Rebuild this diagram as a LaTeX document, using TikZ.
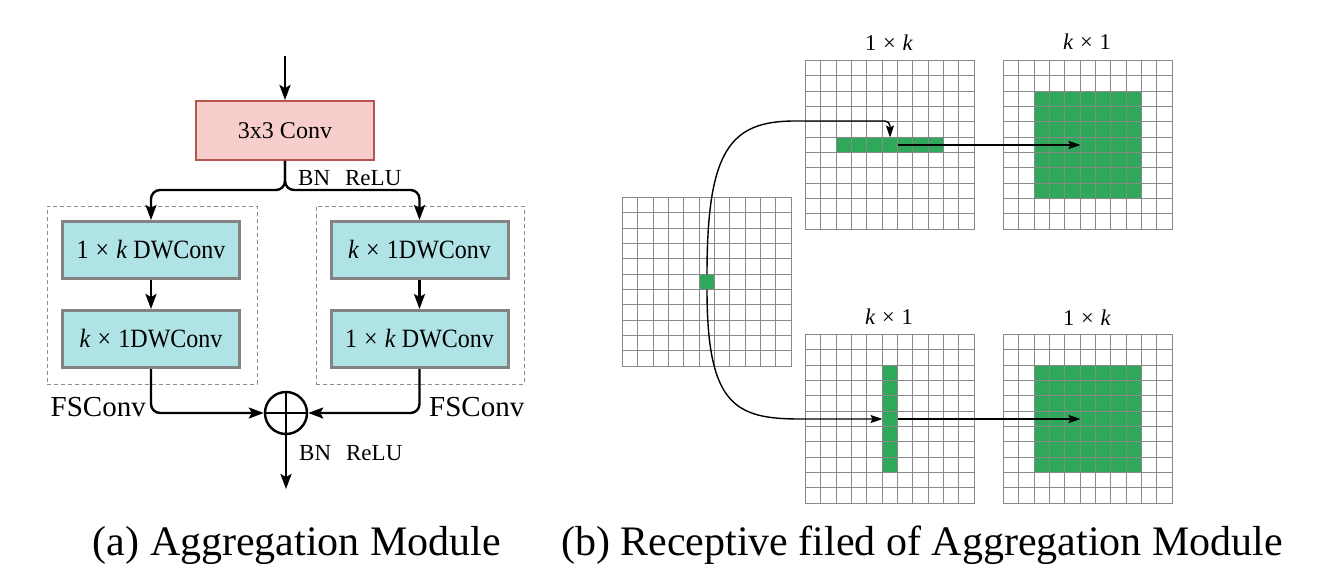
\documentclass[tikz,border=0pt]{standalone}
\usepackage{graphicx}
\usepackage{fontspec}
\setmainfont{Liberation Serif}
\usetikzlibrary{arrows.meta}
\definecolor{convfill}{HTML}{F8CECC}
\definecolor{convline}{HTML}{B85450}
\definecolor{dwfill}{HTML}{B0E3E6}
\definecolor{dwline}{HTML}{838383}
\definecolor{fsline}{HTML}{8C8C8C}
\definecolor{gridgray}{HTML}{888888}
\definecolor{cellgreen}{HTML}{2FA85C}
\newcommand\fmgrid[2]{%
  \foreach \i in {0,...,11} {
    \pgfmathsetmacro\pp{round(\i*15.33)+0.5}
    \draw[gridline] ({#1+\pp},{#2+0.5}) -- ({#1+\pp},{#2+169.5});
    \draw[gridline] ({#1+0.5},{#2+\pp}) -- ({#1+169.5},{#2+\pp});
  }}
\newcommand\fmcells[6]{% x0 y0 col row ncols nrows
  \fill[cellgreen] ({#1+round(#3*15.33)+0.5},{#2+round(#4*15.33)+0.5}) rectangle ({#1+round((#3+#5)*15.33)+0.5},{#2+round((#4+#6)*15.33)+0.5});}
\newcommand\tx{\hspace{0.3em}×\hspace{0.3em}}
\newcommand\dwt[1]{\scalebox{1}[1.1]{#1}}
\begin{document}
\begin{tikzpicture}[x=1pt,y=-1pt,
  convbox/.style={draw=convline, fill=convfill, line width=2pt, minimum width=178pt, minimum height=59pt, inner sep=0pt, font=\fontsize{24}{28}\selectfont},
  dwbox/.style={draw=dwline, fill=dwfill, line width=3pt, minimum width=177pt, minimum height=57pt, inner sep=0pt, font=\fontsize{24}{28}\selectfont},
  fsbox/.style={draw=fsline, dashed, dash pattern=on 4pt off 3pt, line width=1pt, inner sep=0pt},
  arr/.style={draw=black, line width=2.4pt, -{Stealth[length=15pt,width=11pt,inset=3pt]}},
  thinarr/.style={draw=black, line width=1.4pt, -{Stealth[length=12pt,width=8pt,inset=2pt]}},
  gridline/.style={draw=gridgray, line width=1.6pt, line cap=rect},
  smalltext/.style={inner sep=0pt, font=\fontsize{23}{26}\selectfont},
  midtext/.style={inner sep=0pt, font=\fontsize{29}{32}\selectfont},
  captext/.style={inner sep=0pt, font=\fontsize{42}{48}\selectfont},
  glabel/.style={inner sep=0pt, font=\fontsize{22.5}{26}\selectfont}]
\useasboundingbox (0,0) rectangle (1328,583);
\fill[white] (0,0) rectangle (1328,583);

% ---------- (a) ----------
\node[fsbox, minimum width=210pt, minimum height=178pt] (fs1) at (152,295) {};
\node[fsbox, minimum width=208pt, minimum height=178pt] (fs2) at (420,295) {};

\node[convbox] (conv) at (285,130.5) {3x3 Conv};
\node[dwbox] (b1) at (151,250) {\dwt{1\tx\textit{k} DWConv}};
\node[dwbox] (b2) at (151,339) {\dwt{\textit{k}\tx1DWConv}};
\node[dwbox] (b3) at (419.5,250) {\dwt{\textit{k}\tx1DWConv}};
\node[dwbox] (b4) at (419.5,339) {\dwt{1\tx\textit{k} DWConv}};
\node[draw, circle, line width=2.4pt, minimum size=42pt, inner sep=0pt] (sum) at (286,413) {};
\draw[line width=2.4pt] (sum.north) -- (sum.south);
\draw[line width=2.4pt] (sum.west) -- (sum.east);

\coordinate (in) at (285,56);
\coordinate (out) at (286,489);
\draw[arr] (in) -- (conv.north);
\draw[arr, rounded corners=9pt] (conv.south) -- ++(0,29) -| (b1.north);
\draw[arr, rounded corners=9pt] (conv.south) -- ++(0,29) -| (b3.north);
\draw[arr] (b1.south) -- (b2.north);
\draw[arr] (b3.south) -- (b4.north);
\draw[arr, rounded corners=9pt] (b2.south) |- (sum.west);
\draw[arr, rounded corners=9pt] (b4.south) |- (sum.east);
\draw[arr] (sum.south) -- (out);

\node[smalltext, anchor=west] (bn1) at (298,178) {BN\hspace{15pt}ReLU};
\node[smalltext, anchor=west] (bn2) at (299,453) {BN\hspace{15pt}ReLU};
\node[midtext, anchor=east] (fsl) at (146,407) {FSConv};
\node[midtext, anchor=west] (fsr) at (429,407) {FSConv};
\node[captext, anchor=base] (capa) at (297,555) {(a) Aggregation Module};
\node[captext, anchor=base] (capb) at (922,555) {(b) Receptive filed of Aggregation Module};

% ---------- (b) ----------
\fmcells{622}{197}{5}{5}{1}{1}
\fmcells{805}{60}{2}{5}{7}{1}
\fmcells{1003}{60}{2}{2}{7}{7}
\fmcells{805}{334}{5}{2}{1}{7}
\fmcells{1003}{334}{2}{2}{7}{7}
\fmgrid{622}{197}
\fmgrid{805}{60}
\fmgrid{1003}{60}
\fmgrid{805}{334}
\fmgrid{1003}{334}

\node[glabel, anchor=base] (l1) at (889,51) {1\tx\textit{k}};
\node[glabel, anchor=base] (l2) at (1087,50) {\textit{k}\tx1};
\node[glabel, anchor=base] (l3) at (889,324) {\textit{k}\tx1};
\node[glabel, anchor=base] (l4) at (1087,325) {1\tx\textit{k}};

\coordinate (srcN) at (707,274.5);
\coordinate (srcS) at (707,289.5);
\coordinate (t1) at (890,137.5);
\coordinate (t1r) at (897.5,145);
\coordinate (t2) at (1080.5,145);
\coordinate (t3) at (882.5,419);
\coordinate (t3r) at (897.5,419);
\coordinate (t4) at (1080.5,419);

\draw[thinarr, rounded corners=5pt] (srcN) .. controls (707,150) and (730,121) .. (800,121) -- (t1 |- 0,121) -- (t1);
\draw[thinarr] (srcS) .. controls (707,405) and (735,419) .. (800,419) -- (t3);
\draw[thinarr] (t1r) -- (t2);
\draw[thinarr] (t3r) -- (t4);
\end{tikzpicture}
\end{document}
